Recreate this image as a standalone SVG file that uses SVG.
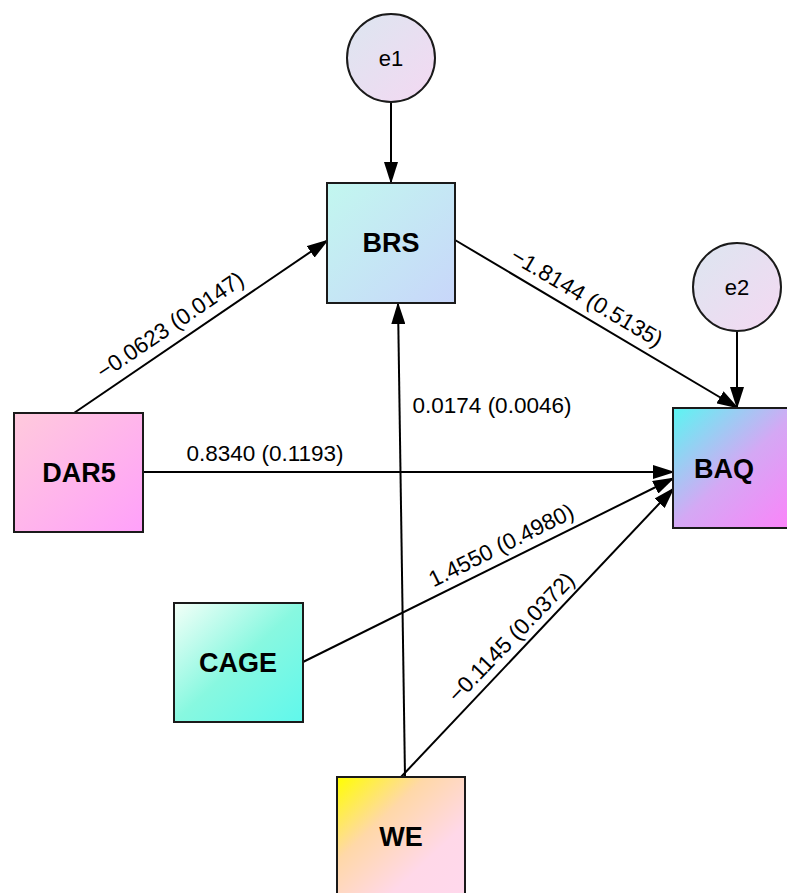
<svg xmlns="http://www.w3.org/2000/svg" width="787" height="893" viewBox="0 0 787 893">
<defs>
<style>
.box{stroke:#1a1a1a;stroke-width:2}
.nl{font-family:"Liberation Sans",Arial,sans-serif;font-weight:bold;font-size:27px;fill:#000;text-anchor:middle;dominant-baseline:central}
.el{font-family:"Liberation Sans",Arial,sans-serif;font-size:22px;fill:#000;text-anchor:middle;dominant-baseline:central}
.lab{font-family:"Liberation Sans",Arial,sans-serif;font-size:22.5px;fill:#000;text-anchor:middle}
.edge{stroke:#000;stroke-width:2;fill:none;marker-end:url(#arr)}
</style>
<marker id="arr" viewBox="0 0 22 14" refX="21" refY="7" markerWidth="22" markerHeight="14" markerUnits="userSpaceOnUse" orient="auto">
<path d="M0,0 L22,7 L0,14 z" fill="#000"/>
</marker>
<linearGradient id="gBRS" x1="0" y1="0" x2="1" y2="1"><stop offset="0" stop-color="#c2f7ef"/><stop offset="1" stop-color="#c8d6fa"/></linearGradient>
<linearGradient id="gBAQ" x1="0" y1="0" x2="1" y2="1"><stop offset="0" stop-color="#5af6f2"/><stop offset="0.5" stop-color="#d4a8f4"/><stop offset="1" stop-color="#ff80fa"/></linearGradient>
<linearGradient id="gDAR" x1="0" y1="0" x2="1" y2="1"><stop offset="0" stop-color="#ffcadc"/><stop offset="1" stop-color="#ffa0fa"/></linearGradient>
<linearGradient id="gCAGE" x1="0" y1="0" x2="1" y2="1"><stop offset="0" stop-color="#f4fff8"/><stop offset="0.5" stop-color="#88f8e0"/><stop offset="1" stop-color="#60f8ec"/></linearGradient>
<linearGradient id="gWE" x1="0" y1="0" x2="1" y2="1"><stop offset="0" stop-color="#ffff00"/><stop offset="0.35" stop-color="#ffd8a8"/><stop offset="0.7" stop-color="#ffd8e8"/><stop offset="1" stop-color="#ffd8ec"/></linearGradient>
<linearGradient id="gE" x1="0" y1="0" x2="1" y2="1"><stop offset="0" stop-color="#dce6f0"/><stop offset="1" stop-color="#f4d8f2"/></linearGradient>
</defs>
<rect width="787" height="893" fill="#fff"/>
<g id="connectors">
<line class="edge" x1="391" y1="102" x2="391" y2="183"/>
<line class="edge" x1="737" y1="331" x2="737" y2="408"/>
<line class="edge" x1="74" y1="413" x2="328" y2="240"/>
<line class="edge" x1="455" y1="240" x2="738" y2="408"/>
<line class="edge" x1="143" y1="472" x2="674" y2="472"/>
<line class="edge" x1="303" y1="662" x2="674" y2="478"/>
<line class="edge" x1="401" y1="777" x2="674" y2="488"/>
<line class="edge" x1="405" y1="777" x2="398" y2="303"/>
<text class="lab" transform="translate(170,325) rotate(-34.2)" dy="8">−0.0623 (0.0147)</text>
<text class="lab" transform="translate(587,297) rotate(30.7)" dy="8">−1.8144 (0.5135)</text>
<text class="lab" x="492" y="413">0.0174 (0.0046)</text>
<text class="lab" x="265" y="461">0.8340 (0.1193)</text>
<text class="lab" transform="translate(501,545) rotate(-26.5)" dy="8">1.4550 (0.4980)</text>
<text class="lab" transform="translate(511,637) rotate(-46)" dy="8">−0.1145 (0.0372)</text>
</g>
<g id="e1"><circle cx="391" cy="58" r="44" fill="url(#gE)" stroke="#1a1a1a" stroke-width="2"/><text class="el" x="391" y="58">e1</text></g>
<g id="e2"><circle cx="737" cy="287" r="44" fill="url(#gE)" stroke="#1a1a1a" stroke-width="2"/><text class="el" x="737" y="287">e2</text></g>
<g id="BRS"><rect class="box" x="327" y="183" width="128" height="120" fill="url(#gBRS)"/><text class="nl" x="391" y="243">BRS</text></g>
<g id="BAQ"><rect class="box" x="673" y="408" width="128" height="120" fill="url(#gBAQ)"/><text class="nl" x="724" y="469">BAQ</text></g>
<g id="DAR5"><rect class="box" x="14" y="413" width="129" height="119" fill="url(#gDAR)"/><text class="nl" x="79" y="473">DAR5</text></g>
<g id="CAGE"><rect class="box" x="174" y="603" width="129" height="119" fill="url(#gCAGE)"/><text class="nl" x="238" y="663">CAGE</text></g>
<g id="WE"><rect class="box" x="337" y="777" width="128" height="120" fill="url(#gWE)"/><text class="nl" x="401" y="837">WE</text></g>
</svg>
